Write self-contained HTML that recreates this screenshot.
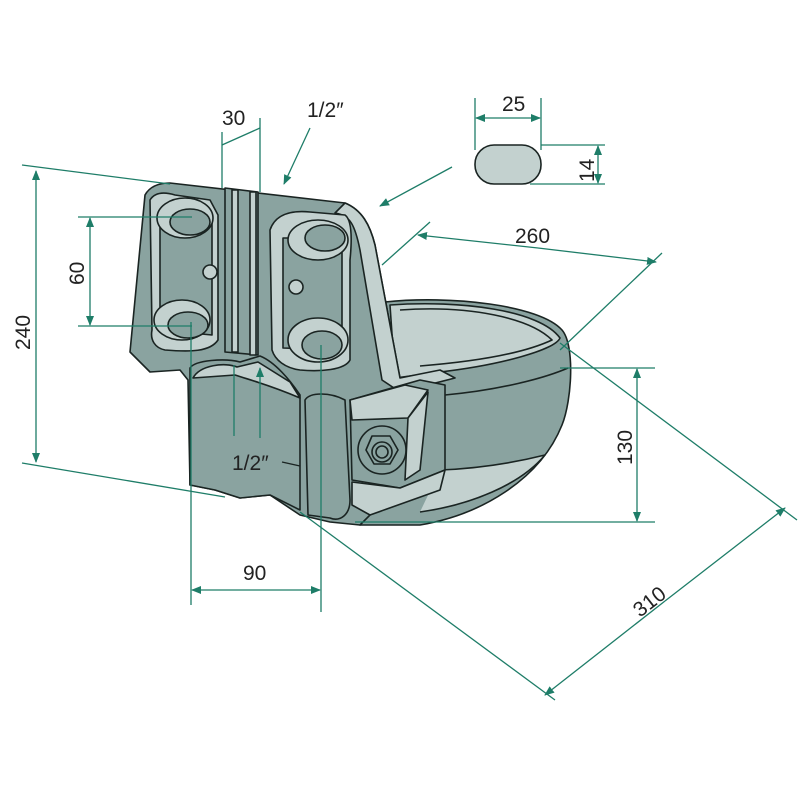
<!DOCTYPE html>
<html><head><meta charset="utf-8"><style>html,body{margin:0;padding:0;background:#fff}svg{display:block}</style></head>
<body>
<svg width="800" height="800" viewBox="0 0 800 800" xmlns="http://www.w3.org/2000/svg">
<defs>
<marker id="a" markerWidth="10" markerHeight="8" refX="9" refY="4" orient="auto" markerUnits="userSpaceOnUse"><path d="M0,0 L10,4 L0,8 Z" fill="#1e7d68"/></marker>
</defs>
<g stroke="#1a2422" stroke-width="1.6" stroke-linejoin="round">
<!-- bowl -->
<path d="M385,302 C450,295 540,305 562,330 C575,345 572,400 562,425 C540,480 480,515 420,525 L360,525 L350,400 Z" fill="#8aa3a0"/>
<path d="M390,305 C460,300 540,310 560,338 C555,350 500,365 440,372 L395,378 Z" fill="#c3d1cf"/>
<path d="M400,310 C470,305 530,318 552,340 C520,355 470,362 420,366" fill="none"/>
<path d="M445,395 C500,390 545,378 568,368" fill="none"/>
<path d="M440,470 C490,468 525,460 545,455 C520,485 470,505 420,512" fill="#c3d1cf"/>
<!-- back plate -->
<path d="M130,352 L145,195 C150,186 160,183 170,183 L345,203 C362,210 370,225 375,245 L400,378 L440,392 L440,470 L400,485 L360,525 L330,522 L300,515 L270,495 L240,498 L215,490 L190,485 L188,380 L180,370 L150,372 Z" fill="#8aa3a0"/>
<!-- right flange light -->
<path d="M345,203 C362,210 370,225 375,245 L400,378 L440,370 L455,378 L400,392 L382,380 L360,250 C355,225 350,215 335,213 Z" fill="#c3d1cf"/>
<!-- vertical rib -->
<path d="M225,188 L258,192 L258,355 L225,352 Z" fill="#8aa3a0"/>
<path d="M232,190 L238,190 L238,352 L232,352 Z M250,192 L256,192 L256,355 L250,355 Z" fill="#c3d1cf"/>
<!-- left slot frame -->
<path d="M150,200 C155,192 165,192 175,195 L210,200 L218,215 L218,340 C210,352 190,352 165,350 C155,348 150,340 152,330 Z" fill="#c3d1cf"/>
<path d="M160,210 L212,215 L212,335 L160,330 Z" fill="#8aa3a0"/>
<ellipse cx="185" cy="218" rx="28" ry="20" fill="#c3d1cf"/>
<ellipse cx="190" cy="222" rx="20" ry="13" fill="#8aa3a0"/>
<ellipse cx="182" cy="320" rx="28" ry="20" fill="#c3d1cf"/>
<ellipse cx="188" cy="325" rx="20" ry="13" fill="#8aa3a0"/>
<ellipse cx="210" cy="272" rx="7" ry="7" fill="#c3d1cf"/>
<!-- right slot frame -->
<path d="M270,230 C275,215 290,210 310,212 L345,215 C352,220 352,240 350,260 L350,360 C345,370 320,372 300,370 C285,368 275,360 272,350 Z" fill="#c3d1cf"/>
<path d="M283,238 L342,238 L342,350 L283,348 Z" fill="#8aa3a0"/>
<ellipse cx="318" cy="240" rx="30" ry="20" fill="#c3d1cf"/>
<ellipse cx="325" cy="238" rx="20" ry="13" fill="#8aa3a0"/>
<ellipse cx="318" cy="340" rx="30" ry="22" fill="#c3d1cf"/>
<ellipse cx="322" cy="345" rx="20" ry="14" fill="#8aa3a0"/>
<circle cx="296" cy="287" r="7" fill="#c3d1cf"/>
<!-- lower left block top -->
<path d="M190,368 C195,360 225,358 240,362 L260,356 C275,362 290,380 300,395 L300,510 L270,495 L240,498 L215,490 L190,485 Z" fill="#8aa3a0"/>
<path d="M193,378 C200,365 225,362 237,367 L258,362 L290,382 L300,398 C270,385 250,380 235,375 Z" fill="#c3d1cf"/>
<!-- center column -->
<path d="M305,400 C310,392 330,392 345,400 L350,500 C350,515 340,522 330,518 L308,515 Z" fill="#8aa3a0"/>
<!-- nut block -->
<path d="M350,400 L420,380 L445,385 L445,470 L400,488 L352,480 Z" fill="#8aa3a0"/>
<path d="M350,400 L405,385 L428,390 L408,418 L352,420 Z" fill="#c3d1cf"/>
<path d="M408,418 L428,392 L420,470 L405,480 Z" fill="#c3d1cf"/>
<path d="M352,482 L400,488 L445,470 L440,490 L370,515 L352,505 Z" fill="#c3d1cf"/>
<circle cx="382" cy="450" r="24" fill="#8aa3a0"/>
<path d="M372,436 L390,436 L398,450 L390,464 L374,464 L366,450 Z" fill="#8aa3a0"/>
<circle cx="382" cy="452" r="10" fill="none"/>
<circle cx="382" cy="452" r="6" fill="none"/>
</g>
<!-- dimension lines -->
<g stroke="#1e7d68" stroke-width="1.3" fill="none">
<line x1="22" y1="165" x2="170" y2="184"/>
<line x1="22" y1="463" x2="225" y2="497"/>
<line x1="36" y1="318" x2="36" y2="171" marker-end="url(#a)"/>
<line x1="36" y1="318" x2="36" y2="462" marker-end="url(#a)"/>
<line x1="78" y1="217" x2="192" y2="217"/>
<line x1="78" y1="326" x2="192" y2="326"/>
<line x1="90" y1="270" x2="90" y2="218" marker-end="url(#a)"/>
<line x1="90" y1="270" x2="90" y2="325" marker-end="url(#a)"/>
<line x1="222" y1="132" x2="222" y2="188"/>
<line x1="260" y1="118" x2="260" y2="192"/>
<line x1="234" y1="436" x2="234" y2="365"/>
<line x1="222" y1="145" x2="260" y2="128"/>
<line x1="310" y1="128" x2="284" y2="184" marker-end="url(#a)"/>
<line x1="452" y1="167" x2="380" y2="206" marker-end="url(#a)"/>
<line x1="475" y1="98" x2="475" y2="150"/>
<line x1="541" y1="98" x2="541" y2="150"/>
<line x1="508" y1="118" x2="476" y2="118" marker-end="url(#a)"/>
<line x1="508" y1="118" x2="540" y2="118" marker-end="url(#a)"/>
<line x1="541" y1="145" x2="605" y2="145"/>
<line x1="530" y1="184" x2="605" y2="184"/>
<line x1="598" y1="165" x2="598" y2="146" marker-end="url(#a)"/>
<line x1="598" y1="165" x2="598" y2="183" marker-end="url(#a)"/>
<line x1="382" y1="265" x2="430" y2="222"/>
<line x1="560" y1="350" x2="662" y2="253"/>
<line x1="538" y1="248" x2="418" y2="235" marker-end="url(#a)"/>
<line x1="538" y1="248" x2="656" y2="262" marker-end="url(#a)"/>
<line x1="560" y1="368" x2="655" y2="368"/>
<line x1="355" y1="522" x2="655" y2="522"/>
<line x1="637" y1="445" x2="637" y2="369" marker-end="url(#a)"/>
<line x1="637" y1="445" x2="637" y2="521" marker-end="url(#a)"/>
<line x1="300" y1="512" x2="555" y2="700"/>
<line x1="560" y1="343" x2="797" y2="520"/>
<line x1="665" y1="601" x2="545" y2="695" marker-end="url(#a)"/>
<line x1="665" y1="601" x2="785" y2="508" marker-end="url(#a)"/>
<line x1="191" y1="322" x2="191" y2="605"/>
<line x1="321" y1="345" x2="321" y2="612"/>
<line x1="256" y1="590" x2="192" y2="590" marker-end="url(#a)"/>
<line x1="256" y1="590" x2="320" y2="590" marker-end="url(#a)"/>
<line x1="260" y1="438" x2="260" y2="368" marker-end="url(#a)"/>
</g>
<line x1="282" y1="462" x2="300" y2="466" stroke="#1a2422" stroke-width="1.3"/>
<rect x="475" y="145" width="66" height="39" rx="19" fill="#c3d1cf" stroke="#1a2422" stroke-width="1.6"/>
<g font-family="'Liberation Sans', sans-serif" font-size="21" fill="#222">
<text x="222" y="125">30</text>
<text x="307" y="117">1/2″</text>
<text x="502" y="111">25</text>
<text x="515" y="243">260</text>
<text x="243" y="580">90</text>
<text x="232" y="470">1/2″</text>
<text transform="translate(30,350) rotate(-90)">240</text>
<text transform="translate(84,285) rotate(-90)">60</text>
<text transform="translate(594,182) rotate(-90)">14</text>
<text transform="translate(632,465) rotate(-90)">130</text>
<text transform="translate(640,618) rotate(-38)">310</text>
</g>
</svg>
</body></html>
